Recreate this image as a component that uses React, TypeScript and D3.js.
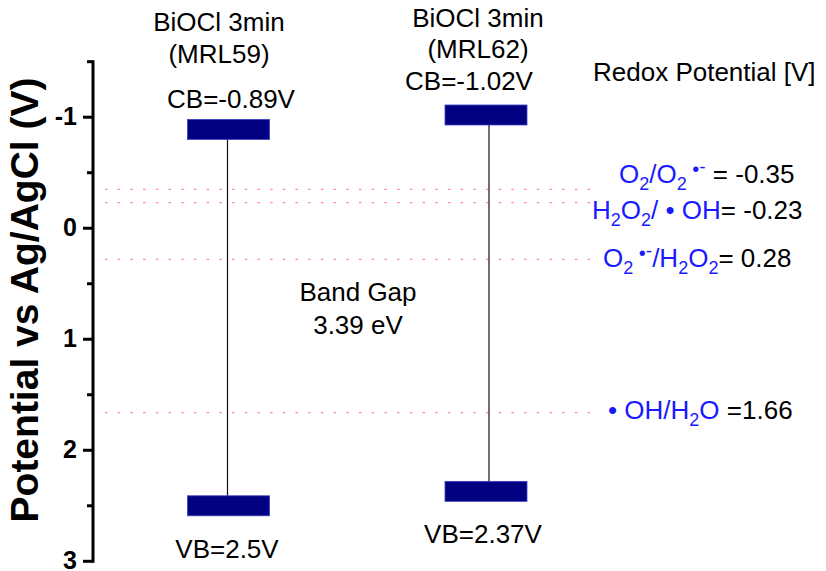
import React from 'react';
import * as d3 from 'd3';

// ---- data ----
const samples = ['MRL59', 'MRL62'];
const sampleTitle = 'BiOCl 3min';
const cbValues = [-0.89, -1.02];
const vbValues = [2.5, 2.37];
const bandGapText = ['Band Gap', '3.39 eV'];

const majorTicks = [-1, 0, 1, 2, 3];
const minorTicks = [-1.5, -0.5, 0.5, 1.5, 2.5];

const redoxValues = [-0.35, -0.23, 0.28, 1.66];
const redoxSeparators = [' = ', '= ', '= ', ' ='];
type Seg = { t: string; k?: 'sub' | 'sup' | 'sup2' };
const redoxCouples: Seg[][] = [
  [{ t: 'O' }, { t: '2', k: 'sub' }, { t: '/O' }, { t: '2', k: 'sub' }, { t: ' •', k: 'sup' }, { t: '-', k: 'sup2' }],
  [{ t: 'H' }, { t: '2', k: 'sub' }, { t: 'O' }, { t: '2', k: 'sub' }, { t: '/ • OH' }],
  [{ t: 'O' }, { t: '2', k: 'sub' }, { t: ' •', k: 'sup' }, { t: '-', k: 'sup2' }, { t: '/H' }, { t: '2', k: 'sub' }, { t: 'O' }, { t: '2', k: 'sub' }],
  [{ t: '• OH/H' }, { t: '2', k: 'sub' }, { t: 'O' }],
];
const redoxTitle = 'Redox Potential [V]';
const yTitle = 'Potential vs Ag/AgCl (V)';

// ---- layout ----
const W = 826;
const H = 571;
const AXIS_X = 93;
const FONT = "'Liberation Sans', Arial, Helvetica, sans-serif";
const BAR_W = 82;
const BAR_H = 20;
const NAVY = '#000080';
const BLUE = '#1a1aff';

const titleY = [[31, 63], [27, 58]];
const titleX = [219, 478];
const cbLabelX = [231, 469];
const cbLabelDy = [-21, -25];
const vbLabelX = [227, 483];
const redoxX = [619, 592, 603, 608];
const redoxDy = [-6, 16, 8, 6];

const shiftOf: Record<string, number> = { sub: 7, sup: -7, sup2: -10 };
const sizeOf: Record<string, number> = { sub: 18, sup: 20, sup2: 19 };

function RichLabel({ x, y, segs, tail }: { x: number; y: number; segs: Seg[]; tail: string }) {
  let prev = 0;
  const parts = segs.map((s, i) => {
    const shift = s.k ? shiftOf[s.k] : 0;
    const dy = shift - prev;
    prev = shift;
    return (
      <tspan key={i} dy={dy} fontSize={s.k ? sizeOf[s.k] : 26} fill={BLUE}>
        {s.t}
      </tspan>
    );
  });
  return (
    <text x={x} y={y} fontFamily={FONT} fontSize={26} style={{ whiteSpace: 'pre' }}>
      {parts}
      <tspan dy={-prev} fill="#000">{tail}</tspan>
    </text>
  );
}

export default function App() {
  const y = d3.scaleLinear().domain([-1.5, 3]).range([61.7, 561.3]);
  const x = d3.scalePoint<string>().domain(samples).range([228.5, 486]);
  const lineEnd = 590;
  const fmtVal = (v: number) => v.toFixed(2);

  return (
    <svg width={W} height={H} style={{ position: 'absolute', left: 0, top: 0, background: '#fff' }}>
      <rect width={W} height={H} fill="#fff" />

      {/* redox reference levels */}
      {redoxValues.map((v, i) => (
        <line
          key={'rl' + i}
          x1={AXIS_X + 12}
          x2={lineEnd}
          y1={y(v)}
          y2={y(v)}
          stroke="#ff8c8c"
          strokeWidth={1.3}
          strokeDasharray="2.5 10.2"
        />
      ))}

      {/* band connectors */}
      {samples.map((s, i) => (
        <line
          key={'c' + s}
          x1={x(s)! + (i === 1 ? 3 : -1)}
          x2={x(s)! + (i === 1 ? 3 : -1)}
          y1={y(cbValues[i])}
          y2={y(vbValues[i])}
          stroke="#111"
          strokeWidth={1.2}
        />
      ))}

      {/* CB and VB bars */}
      {samples.map((s, i) =>
        [cbValues[i], vbValues[i]].map((v, j) => (
          <rect
            key={s + j}
            x={x(s)! - BAR_W / 2}
            y={y(v) - BAR_H / 2}
            width={BAR_W}
            height={BAR_H}
            fill={NAVY}
            stroke="#4040c0"
            strokeWidth={0.8}
          />
        ))
      )}

      {/* sample headings and band labels */}
      {samples.map((s, i) => (
        <g key={'t' + s} fontFamily={FONT} fontSize={26} fill="#000" textAnchor="middle">
          <text x={titleX[i]} y={titleY[i][0]}>{sampleTitle}</text>
          <text x={titleX[i]} y={titleY[i][1]}>({s})</text>
          <text x={cbLabelX[i]} y={y(cbValues[i]) + cbLabelDy[i]}>CB={cbValues[i]}V</text>
          <text x={vbLabelX[i]} y={y(vbValues[i]) + 52}>VB={vbValues[i]}V</text>
        </g>
      ))}

      <g fontFamily={FONT} fontSize={26} fill="#000" textAnchor="middle">
        <text x={358} y={301}>{bandGapText[0]}</text>
        <text x={358} y={334}>{bandGapText[1]}</text>
      </g>

      {/* redox labels */}
      <text x={593} y={81} fontFamily={FONT} fontSize={26} fill="#000">{redoxTitle}</text>
      {redoxValues.map((v, i) => (
        <RichLabel
          key={'r' + i}
          x={redoxX[i]}
          y={y(v) + redoxDy[i]}
          segs={redoxCouples[i]}
          tail={redoxSeparators[i] + fmtVal(v)}
        />
      ))}

      {/* y axis */}
      <g stroke="#000" strokeWidth={3}>
        <line x1={AXIS_X} x2={AXIS_X} y1={y(-1.5) - 1.5} y2={y(3) + 1.5} />
        {majorTicks.map((t) => (
          <line key={'M' + t} x1={AXIS_X - 10} x2={AXIS_X} y1={y(t)} y2={y(t)} />
        ))}
        {minorTicks.map((t) => (
          <line key={'m' + t} x1={AXIS_X - 6} x2={AXIS_X} y1={y(t)} y2={y(t)} />
        ))}
      </g>
      <g fontFamily={FONT} fontSize={25} fontWeight="bold" fill="#000" textAnchor="end">
        {majorTicks.map((t) => (
          <text key={'L' + t} x={AXIS_X - 16} y={y(t)} dy="0.3em">{t}</text>
        ))}
      </g>
      <text
        transform={`translate(38, 300) rotate(-90)`}
        textAnchor="middle"
        fontFamily={FONT}
        fontSize={39}
        fontWeight="bold"
        fill="#000"
      >
        {yTitle}
      </text>
    </svg>
  );
}
